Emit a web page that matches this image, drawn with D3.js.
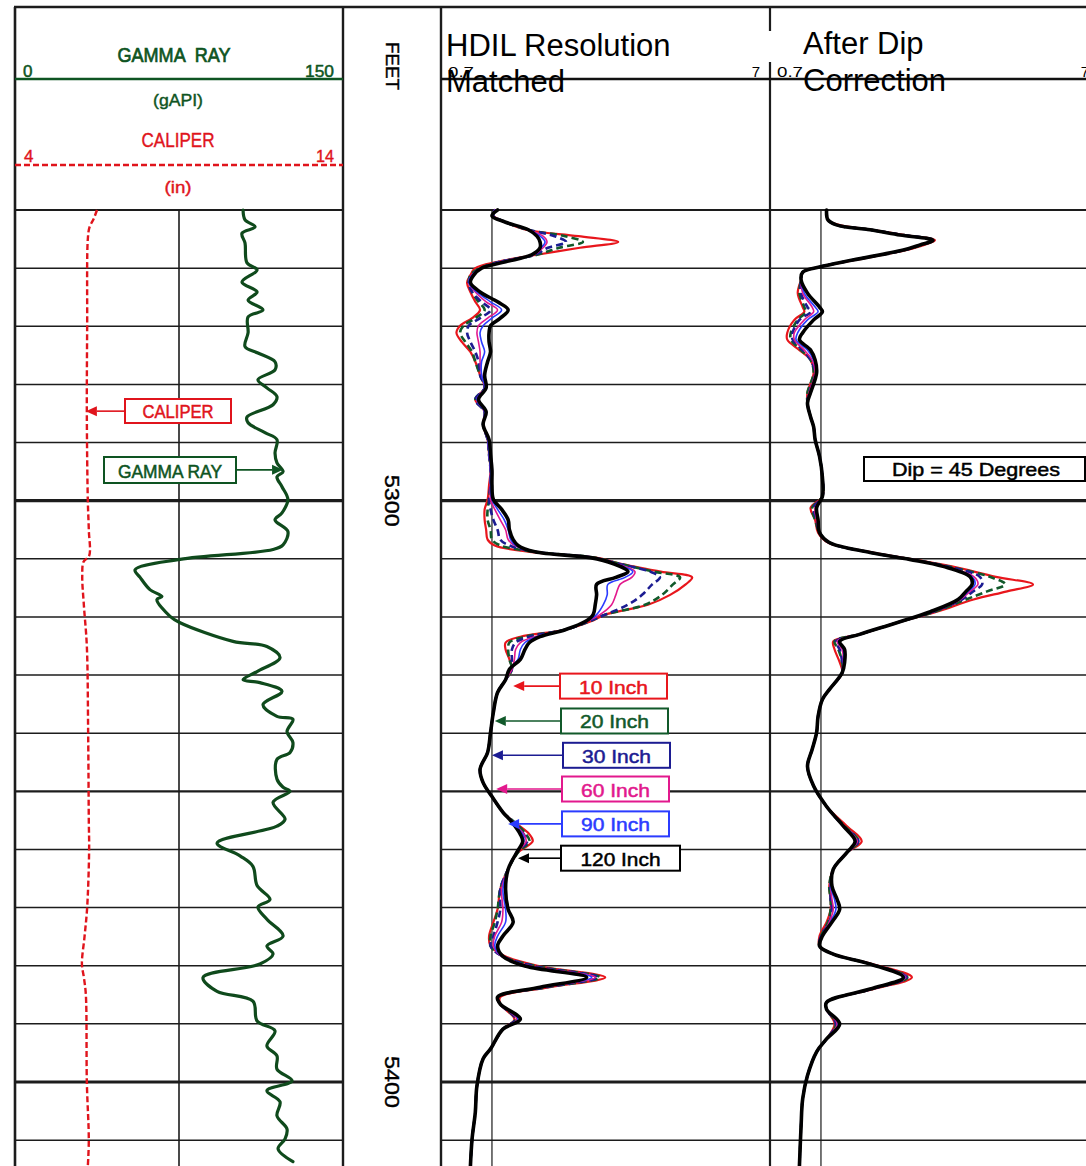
<!DOCTYPE html>
<html><head><meta charset="utf-8">
<script src="https://cdn.jsdelivr.net/npm/d3@7"></script>
<style>html,body{margin:0;padding:0;background:#fff;} svg{display:block}</style>
</head><body>
<svg id="c" width="1086" height="1166"></svg>
<script>
// ---------------- DATA ----------------
const depthLabels = [5300, 5400];
const gridDepths = [5250,5260,5270,5280,5290,5300,5310,5320,5330,5340,5350,5360,5370,5380,5390,5400,5410];

const grDepth = [5250.0,5251.7,5252.9,5254.0,5255.7,5259.1,5260.3,5262.4,5264.1,5265.5,5267.2,5268.4,5271.1,5273.5,5274.6,5276.1,5277.5,5279.2,5280.6,5282.1,5283.5,5285.6,5286.6,5288.3,5289.5,5291.8,5293.5,5295.0,5295.9,5297.6,5299.8,5302.1,5303.3,5305.3,5307.6,5308.4,5310.1,5311.9,5313.2,5315.3,5316.5,5317.0,5319.9,5321.0,5324.2,5325.1,5327.0,5329.4,5330.8,5331.3,5332.8,5335.1,5337.1,5337.6,5339.7,5341.6,5343.3,5344.5,5347.9,5349.3,5350.0,5351.9,5354.8,5356.0,5358.9,5361.1,5362.9,5366.2,5368.6,5369.9,5372.0,5374.9,5376.6,5378.0,5379.7,5382.0,5384.4,5386.1,5389.5,5391.2,5393.8,5395.5,5397.8,5399.8,5401.5,5403.4,5405.8,5408.1,5409.8,5411.5,5413.7];
const grValue = [104.3,105.2,109.8,103.8,105.2,106.1,110.7,103.8,110.7,106.6,113.4,106.6,106.6,105.2,111.1,118.9,118.9,111.1,115.2,119.8,118.0,106.1,106.6,114.3,119.8,118.9,119.8,122.6,119.8,122.1,124.8,122.1,118.9,124.8,122.6,118.0,75.5,54.9,57.2,61.7,67.2,64.9,70.9,75.5,99.7,115.2,121.2,110.7,104.3,112.0,122.1,113.4,119.8,127.1,124.4,127.1,125.8,119.8,119.8,122.6,125.8,118.0,123.5,119.8,92.4,102.9,108.8,110.7,116.6,111.1,115.2,122.6,115.2,118.0,112.0,86.0,92.4,108.8,110.7,118.9,115.2,119.8,119.8,126.7,115.2,121.2,119.8,124.4,123.5,120.3,127.1];

const calDepth = [5250.0,5251.5,5253.0,5255.0,5270.0,5285.0,5300.0,5305.0,5309.5,5310.5,5313.0,5318.0,5325.0,5340.0,5355.0,5360.0,5370.0,5375.0,5379.7,5382.0,5385.0,5400.0,5410.0,5414.5];
const calValue = [6.50,6.40,6.27,6.22,6.20,6.19,6.22,6.25,6.26,6.09,6.05,6.10,6.19,6.23,6.25,6.26,6.20,6.12,6.04,6.10,6.16,6.19,6.25,6.22];

// HDIL resolution matched (ohm-m)
const hdilDepth = [5250.0,5251.0,5252.1,5253.4,5254.5,5255.5,5256.5,5257.7,5258.9,5260.0,
5261.2,5262.5,5264.1,5265.8,5267.2,5268.6,5269.9,5271.1,5272.7,5274.4,
5276.1,5278.4,5280.6,5282.6,5284.7,5286.9,5289.5,5292.1,5294.7,5297.3,
5299.8,5301.5,5303.3,5305.0,5306.7,5307.7,5308.8,5309.8,5310.8,5312.2,
5313.2,5314.4,5316.2,5317.9,5319.6,5320.8,5322.2,5323.4,5324.4,5325.6,
5327.3,5329.0,5330.8,5333.0,5336.4,5339.9,5343.3,5346.2,5348.5,5350.9,
5353.6,5355.3,5357.4,5358.6,5360.5,5363.4,5366.8,5370.3,5372.5,5374.9,
5376.6,5378.4,5380.1,5382.0,5383.7,5385.4,5386.6,5389.2,5390.9,5394.3,
5396.0,5400.7,5405.2,5409.8,5414.5];
const hdil120 = [1.04,1.00,1.10,1.29,1.37,1.40,1.40,1.32,1.10,0.93,
0.88,0.86,0.92,1.04,1.12,1.06,0.99,0.98,0.98,0.99,
0.97,0.95,0.96,0.91,0.96,0.94,0.98,0.99,1.00,1.00,
1.01,1.07,1.12,1.13,1.16,1.20,1.35,1.99,2.33,2.59,
2.38,2.08,2.08,2.06,2.03,1.92,1.67,1.40,1.30,1.26,
1.22,1.13,1.10,1.04,1.01,0.99,0.97,0.92,0.94,1.00,
1.08,1.15,1.22,1.24,1.19,1.12,1.10,1.12,1.16,1.08,
1.04,1.08,1.27,1.94,1.40,1.04,1.06,1.22,1.08,0.99,
0.94,0.90,0.89,0.87,0.86];
const hdil90 = [1.02,1.01,1.10,1.29,1.40,1.45,1.41,1.33,1.06,0.93,
0.87,0.85,0.90,0.99,1.07,1.00,0.94,0.92,0.93,0.95,
0.93,0.93,0.95,0.90,0.95,0.94,0.97,0.98,0.99,0.99,
1.00,1.04,1.09,1.12,1.14,1.18,1.35,2.00,2.34,2.68,
2.54,2.25,2.24,2.18,2.08,1.93,1.67,1.37,1.26,1.22,
1.20,1.13,1.10,1.04,1.01,0.99,0.97,0.92,0.94,1.00,
1.08,1.15,1.24,1.25,1.19,1.12,1.08,1.10,1.10,1.04,
1.02,1.07,1.30,2.01,1.42,1.04,1.06,1.20,1.08,0.99,
0.94,0.90,0.89,0.87,0.86];
const hdil60 = [1.02,1.01,1.10,1.29,1.43,1.47,1.43,1.34,1.06,0.93,
0.87,0.85,0.89,0.96,1.04,0.97,0.91,0.90,0.91,0.92,
0.92,0.93,0.95,0.90,0.95,0.94,0.97,0.98,0.99,0.99,
0.99,1.02,1.06,1.10,1.12,1.17,1.35,2.01,2.36,2.72,
2.66,2.45,2.38,2.31,2.13,1.94,1.67,1.35,1.22,1.18,
1.17,1.15,1.10,1.04,1.01,0.99,0.97,0.92,0.94,1.00,
1.08,1.16,1.25,1.27,1.19,1.12,1.07,1.08,1.07,1.02,
1.01,1.07,1.32,2.06,1.44,1.04,1.06,1.19,1.08,0.99,
0.94,0.90,0.89,0.87,0.86];
const hdil30 = [1.02,1.01,1.10,1.29,1.55,1.68,1.48,1.35,1.06,0.93,
0.87,0.85,0.87,0.93,0.99,0.92,0.85,0.84,0.86,0.89,
0.91,0.92,0.95,0.89,0.95,0.94,0.97,0.98,0.99,0.99,
0.98,0.99,1.01,1.04,1.06,1.13,1.35,2.03,2.40,3.02,
3.24,3.07,2.86,2.59,2.21,1.96,1.67,1.30,1.18,1.15,
1.15,1.15,1.10,1.04,1.01,0.99,0.97,0.92,0.94,1.00,
1.08,1.16,1.25,1.28,1.19,1.12,1.06,1.06,1.04,1.01,
0.99,1.08,1.35,2.10,1.45,1.04,1.06,1.18,1.08,0.99,
0.94,0.90,0.89,0.87,0.86];
const hdil20 = [1.02,1.01,1.10,1.28,1.67,1.89,1.60,1.37,1.06,0.92,
0.86,0.85,0.87,0.91,0.95,0.89,0.82,0.80,0.83,0.87,
0.89,0.92,0.95,0.89,0.95,0.94,0.97,0.98,0.99,0.99,
0.98,0.97,0.97,0.99,1.00,1.06,1.35,2.04,2.43,3.09,
3.73,3.55,3.29,2.92,2.21,1.97,1.67,1.26,1.13,1.12,
1.13,1.15,1.10,1.04,1.01,0.99,0.97,0.92,0.94,1.00,
1.08,1.17,1.27,1.30,1.20,1.12,1.06,1.04,1.02,0.99,
0.99,1.08,1.37,2.13,1.47,1.04,1.06,1.18,1.08,0.99,
0.94,0.90,0.89,0.87,0.86];
const hdil10 = [1.02,1.01,1.10,1.27,1.83,2.42,1.85,1.37,1.04,0.89,
0.86,0.84,0.86,0.89,0.92,0.87,0.80,0.78,0.81,0.86,
0.89,0.92,0.95,0.89,0.95,0.94,0.97,0.98,0.99,0.98,
0.97,0.95,0.95,0.96,0.97,1.02,1.30,2.07,2.45,3.26,
4.06,3.88,3.48,2.98,2.21,1.99,1.67,1.22,1.10,1.10,
1.13,1.15,1.10,1.04,1.01,0.99,0.97,0.92,0.94,1.00,
1.08,1.17,1.30,1.33,1.20,1.12,1.06,1.04,1.01,0.98,
0.99,1.10,1.40,2.21,1.50,1.06,1.06,1.17,1.08,0.99,
0.94,0.90,0.89,0.87,0.86];

// After dip correction (ohm-m)
const dipDepth = [5250.0,5251.7,5252.6,5253.4,5254.3,5255.2,5256.0,5256.9,5258.6,5259.8,
5260.7,5262.0,5264.3,5266.7,5267.5,5268.9,5271.1,5272.3,5274.1,5275.8,
5278.0,5281.4,5283.2,5285.6,5287.3,5289.5,5292.4,5295.9,5299.3,5301.2,
5303.3,5305.5,5307.2,5308.9,5310.1,5311.3,5313.1,5314.4,5315.6,5317.0,
5319.1,5321.0,5323.0,5324.2,5325.6,5327.8,5329.6,5332.5,5334.2,5337.1,
5339.9,5342.8,5345.7,5349.1,5352.6,5356.0,5358.6,5360.5,5363.4,5366.3,
5368.6,5370.3,5372.5,5374.9,5376.6,5378.0,5379.7,5382.0,5384.0,5386.3,
5387.5,5390.0,5392.6,5394.8,5398.9,5402.9,5407.6,5414.5];
const dip120 = [1.04,1.05,1.12,1.41,1.74,2.19,2.00,1.78,1.25,0.99,
0.88,0.87,0.91,0.99,1.01,0.95,0.88,0.86,0.93,0.96,
0.97,0.93,0.91,0.93,0.95,0.96,0.99,1.01,1.01,0.97,
0.98,0.99,1.06,1.41,1.86,2.35,2.84,2.88,2.76,2.61,
2.15,1.70,1.31,1.14,1.18,1.18,1.16,1.06,1.01,0.98,
0.97,0.94,0.91,0.95,1.04,1.17,1.27,1.20,1.09,1.08,
1.12,1.14,1.08,1.01,0.99,1.09,1.41,1.78,1.41,1.04,
1.04,1.14,1.04,0.97,0.91,0.88,0.87,0.86];
const dip90 = [1.04,1.05,1.12,1.41,1.75,2.19,2.00,1.78,1.25,0.99,
0.88,0.87,0.89,0.96,0.98,0.91,0.85,0.84,0.91,0.95,
0.97,0.93,0.91,0.93,0.95,0.96,0.99,1.01,1.01,0.97,
0.98,0.99,1.06,1.41,1.86,2.37,2.88,2.94,2.80,2.63,
2.16,1.70,1.31,1.13,1.17,1.17,1.16,1.06,1.01,0.98,
0.97,0.94,0.91,0.95,1.04,1.17,1.28,1.20,1.09,1.07,
1.10,1.11,1.07,1.01,0.99,1.09,1.41,1.80,1.42,1.04,
1.04,1.13,1.04,0.97,0.91,0.88,0.87,0.86];
const dip60 = [1.04,1.05,1.12,1.41,1.76,2.20,2.01,1.78,1.25,0.99,
0.88,0.87,0.88,0.94,0.95,0.89,0.83,0.83,0.89,0.94,
0.96,0.92,0.91,0.93,0.95,0.96,0.99,1.01,1.01,0.96,
0.97,0.99,1.06,1.41,1.86,2.38,2.92,3.00,2.84,2.65,
2.18,1.70,1.31,1.12,1.16,1.17,1.16,1.06,1.01,0.98,
0.97,0.94,0.91,0.95,1.04,1.17,1.29,1.20,1.09,1.07,
1.08,1.09,1.06,1.01,0.99,1.09,1.41,1.81,1.42,1.04,
1.04,1.12,1.04,0.97,0.91,0.88,0.87,0.86];
const dip30 = [1.04,1.05,1.12,1.41,1.77,2.20,2.01,1.79,1.25,0.99,
0.88,0.87,0.87,0.91,0.93,0.86,0.82,0.82,0.88,0.93,
0.96,0.92,0.91,0.93,0.95,0.96,0.99,1.01,1.01,0.95,
0.97,0.99,1.06,1.41,1.87,2.40,3.04,3.09,2.90,2.68,
2.19,1.70,1.31,1.11,1.14,1.16,1.16,1.06,1.01,0.98,
0.97,0.94,0.91,0.95,1.04,1.17,1.30,1.20,1.09,1.07,
1.07,1.08,1.06,1.00,0.99,1.09,1.41,1.82,1.43,1.04,
1.04,1.11,1.04,0.97,0.91,0.88,0.87,0.86];
const dip20 = [1.04,1.05,1.12,1.41,1.77,2.20,2.03,1.79,1.25,0.99,
0.88,0.87,0.86,0.89,0.90,0.85,0.81,0.81,0.87,0.93,
0.95,0.91,0.91,0.93,0.95,0.96,0.99,1.01,1.01,0.94,
0.96,0.99,1.06,1.41,1.88,2.43,3.26,3.63,3.20,2.76,
2.22,1.70,1.31,1.10,1.13,1.16,1.16,1.06,1.01,0.98,
0.97,0.94,0.91,0.95,1.04,1.18,1.30,1.20,1.09,1.06,
1.07,1.07,1.05,1.00,0.99,1.09,1.41,1.83,1.43,1.04,
1.04,1.11,1.04,0.97,0.91,0.88,0.87,0.86];
const dip10 = [1.04,1.05,1.14,1.43,1.80,2.22,2.06,1.81,1.27,0.99,
0.88,0.87,0.85,0.88,0.89,0.83,0.79,0.79,0.86,0.93,
0.95,0.91,0.91,0.93,0.95,0.96,0.99,1.01,1.01,0.93,
0.96,0.98,1.05,1.43,1.90,2.50,3.40,4.41,3.68,2.91,
2.25,1.70,1.31,1.09,1.10,1.14,1.16,1.06,1.01,0.98,
0.97,0.94,0.91,0.95,1.04,1.20,1.33,1.20,1.09,1.06,
1.07,1.07,1.04,0.99,0.99,1.09,1.43,1.89,1.45,1.04,
1.04,1.10,1.04,0.97,0.91,0.88,0.87,0.86];

const curveNames = ['10 Inch','20 Inch','30 Inch','60 Inch','90 Inch','120 Inch'];
const curveColors = ['#e8161c','#11592a','#1c1c92','#e2198d','#2b3cff','#000000'];
// legend arrows: depth (ft) and resistivity (ohm-m) where each arrow points
const legendDepth = [5331.9,5337.9,5343.8,5349.6,5355.6,5361.5];
const legendTipR = [1.16,1.02,1.00,1.03,1.12,1.20];

// ---------------- CHART ----------------
const svg = d3.select('#c');
const FONT = "'Liberation Sans', Arial, sans-serif";
const PLOT = "'Liberation Sans Narrow', 'Liberation Sans', Arial, sans-serif";
const GREEN = '#0e5422', RED = '#e0141c', GRID = '#1c1c1c';

const y = d3.scaleLinear().domain([5250, 5400]).range([210, 1082]);
const xGR = d3.scaleLinear().domain([0, 150]).range([15, 343]);
const xCAL = d3.scaleLinear().domain([4, 14]).range([15, 343]);
const xT2 = d3.scaleLog().domain([0.7, 7]).range([441, 770]);
const xT3 = d3.scaleLog().domain([0.7, 7]).range([770, 1099]);

const defs = svg.append('defs');
function clip(id, x0, x1) {
  defs.append('clipPath').attr('id', id).append('rect')
    .attr('x', x0).attr('y', 208).attr('width', x1 - x0).attr('height', 1166 - 208);
}
clip('c1', 15, 343); clip('c2', 441, 770); clip('c3', 770, 1086);

// grid lines
const grid = svg.append('g');
function hline(x0, x1, d) {
  grid.append('line').attr('x1', x0).attr('x2', x1).attr('y1', y(d)).attr('y2', y(d))
    .attr('stroke', GRID).attr('stroke-width', d % 100 === 0 ? 3.2 : (d % 50 === 0 ? 2.2 : 1.5));
}
gridDepths.forEach(d => { hline(15, 343, d); hline(441, 1086, d); });

function vline(x, y0, y1, w) {
  grid.append('line').attr('x1', x).attr('x2', x).attr('y1', y0).attr('y2', y1)
    .attr('stroke', GRID).attr('stroke-width', w);
}
vline(xGR(75), 210, 1166, 1.6);
vline(xT2(1), 210, 1166, 1.2);
vline(xT3(1), 210, 1166, 1.2);
vline(15, 7, 1166, 2.6);
vline(343, 7, 1166, 2.4);
vline(441, 7, 1166, 2.4);
vline(770, 7, 1166, 2.2);
grid.append('line').attr('x1', 14).attr('x2', 1086).attr('y1', 7).attr('y2', 7)
  .attr('stroke', GRID).attr('stroke-width', 2.6);

// ---- track 1 header
const h = svg.append('g');
function txt(g, s, x, yy, o) {
  const t = g.append('text').attr('x', x).attr('y', yy).text(s)
    .attr('font-family', o.family || PLOT).attr('font-size', o.size)
    .attr('fill', o.fill || '#000').attr('text-anchor', o.anchor || 'start')
    .style('white-space', 'pre');
  if (o.len) t.attr('textLength', o.len).attr('lengthAdjust', 'spacingAndGlyphs');
  if (o.bold) t.attr('stroke', o.fill || '#000').attr('stroke-width', o.bold);
  if (o.rot) t.attr('transform', `rotate(90 ${x} ${yy})`).attr('dominant-baseline', 'central');
  return t;
}
txt(h, 'GAMMA  RAY', 174, 62, {size: 20, fill: GREEN, anchor: 'middle', len: 113, bold: 0.7});
txt(h, '0', 23, 77, {size: 17, fill: GREEN, bold: 0.5});
txt(h, '150', 334, 77, {size: 17, fill: GREEN, anchor: 'end', len: 29, bold: 0.5});
h.append('line').attr('x1', 15).attr('x2', 343).attr('y1', 79).attr('y2', 79)
  .attr('stroke', GREEN).attr('stroke-width', 2.6);
txt(h, '(gAPI)', 178, 106, {size: 16, fill: GREEN, anchor: 'middle', len: 50, bold: 0.4});
txt(h, 'CALIPER', 178, 147, {size: 20, fill: RED, anchor: 'middle', len: 73, bold: 0.4});
txt(h, '4', 24, 162, {size: 17, fill: RED, bold: 0.4});
txt(h, '14', 334, 162, {size: 17, fill: RED, anchor: 'end', len: 18, bold: 0.4});
h.append('line').attr('x1', 15).attr('x2', 343).attr('y1', 165).attr('y2', 165)
  .attr('stroke', RED).attr('stroke-width', 2.4).attr('stroke-dasharray', '6,3');
txt(h, '(in)', 178, 193, {size: 16, fill: RED, anchor: 'middle', len: 27, bold: 0.4});

// ---- depth track
txt(h, 'FEET', 392, 66, {size: 19, anchor: 'middle', len: 48, rot: true, bold: 0.4});
depthLabels.forEach(d => txt(h, String(d), 392, y(d), {size: 21, anchor: 'middle', len: 52, rot: true, bold: 0.4}));

// ---- tracks 2/3 header
h.append('line').attr('x1', 441).attr('x2', 1086).attr('y1', 79).attr('y2', 79)
  .attr('stroke', '#111').attr('stroke-width', 2.6);
txt(h, '0.7', 448, 77, {size: 15, len: 26});
txt(h, '7', 760, 77, {size: 15, anchor: 'end'});
txt(h, '0.7', 777, 77, {size: 15, len: 26});
txt(h, '7', 1089, 77, {size: 15, anchor: 'end'});
h.append('rect').attr('x', 760).attr('y', 31).attr('width', 180).attr('height', 31).attr('fill', '#fff');
txt(h, 'HDIL Resolution', 446, 56, {size: 31, family: FONT});
txt(h, 'Matched', 446, 92, {size: 31, family: FONT});
txt(h, 'After Dip', 803, 54, {size: 31, family: FONT});
txt(h, 'Correction', 803, 91, {size: 31, family: FONT});

// ---------------- curves ----------------
function curve(g, xs, depths, vals, color, width, dash, smooth) {
  const n = Math.min(depths.length, vals.length);
  const pts = d3.range(n).map(i => [depths[i], vals[i]]);
  const ln = d3.line().x(d => xs(d[1])).y(d => y(d[0]))
    .curve(smooth ? d3.curveCatmullRom.alpha(0.5) : d3.curveLinear);
  const p = g.append('path').datum(pts).attr('d', ln).attr('fill', 'none')
    .attr('stroke', color).attr('stroke-width', width)
    .attr('stroke-linejoin', 'round').attr('stroke-linecap', 'round');
  if (dash) p.attr('stroke-dasharray', dash).attr('stroke-linecap', 'butt');
  return p;
}

const t1 = svg.append('g').attr('clip-path', 'url(#c1)');
curve(t1, xCAL, calDepth, calValue, RED, 2.4, '6,3', true);
curve(t1, xGR, grDepth, grValue, '#0f4a1c', 3.2, null, true);

const styles = [
  {w: 2.2, dash: null}, {w: 2.6, dash: '7,4'}, {w: 2.6, dash: '7,4'},
  {w: 1.6, dash: null}, {w: 1.6, dash: null}, {w: 3.6, dash: null}
];
const t2 = svg.append('g').attr('clip-path', 'url(#c2)');
[hdil10, hdil20, hdil30, hdil60, hdil90, hdil120].forEach((arr, i) =>
  curve(t2, xT2, hdilDepth, arr, curveColors[i], styles[i].w, styles[i].dash, true));
const t3 = svg.append('g').attr('clip-path', 'url(#c3)');
[dip10, dip20, dip30, dip60, dip90, dip120].forEach((arr, i) =>
  curve(t3, xT3, dipDepth, arr, curveColors[i], styles[i].w, styles[i].dash, true));

// ---------------- annotations ----------------
const an = svg.append('g');
function arrow(x0, xTip, yy, color) {
  const dir = xTip < x0 ? -1 : 1;
  const base = xTip - dir * 11;
  an.append('line').attr('x1', x0).attr('x2', base).attr('y1', yy).attr('y2', yy)
    .attr('stroke', color).attr('stroke-width', 1.6);
  an.append('path').attr('d', `M${xTip},${yy} L${base},${yy - 5} L${base},${yy + 5} Z`)
    .attr('fill', color);
}
function box(x, yy, w, hh, color, label, len, size) {
  an.append('rect').attr('x', x).attr('y', yy).attr('width', w).attr('height', hh)
    .attr('fill', '#fff').attr('stroke', color).attr('stroke-width', 2);
  txt(an, label, x + w / 2, yy + hh - 5, {size: size || 19, fill: color, anchor: 'middle', len: len, bold: 0.5});
}

// track 1 legends
arrow(125, xCAL(6.16), y(5284.6), RED);
box(125, 399, 106, 24, RED, 'CALIPER', 71, 18);
arrow(236, xGR(122.6), y(5294.7), GREEN);
box(104, 457, 132, 26, GREEN, 'GAMMA RAY', 104, 18);

// track 2 legends
const legBoxX = [560, 561, 563, 562, 562, 561];
const legBoxW = [107, 107, 107, 107, 107, 119];
legendDepth.forEach((d, i) => {
  const yy = y(d);
  arrow(legBoxX[i], xT2(legendTipR[i]), yy, curveColors[i]);
  box(legBoxX[i], yy - 12.5, legBoxW[i], 25, curveColors[i], curveNames[i], i === 5 ? 80 : 69, 19);
});

// dip box
an.append('rect').attr('x', 864).attr('y', 457).attr('width', 221).attr('height', 24)
  .attr('fill', '#fff').attr('stroke', '#000').attr('stroke-width', 2);
txt(an, 'Dip = 45 Degrees', 976, 476, {size: 19, anchor: 'middle', len: 168, bold: 0.5});
</script>
</body></html>
